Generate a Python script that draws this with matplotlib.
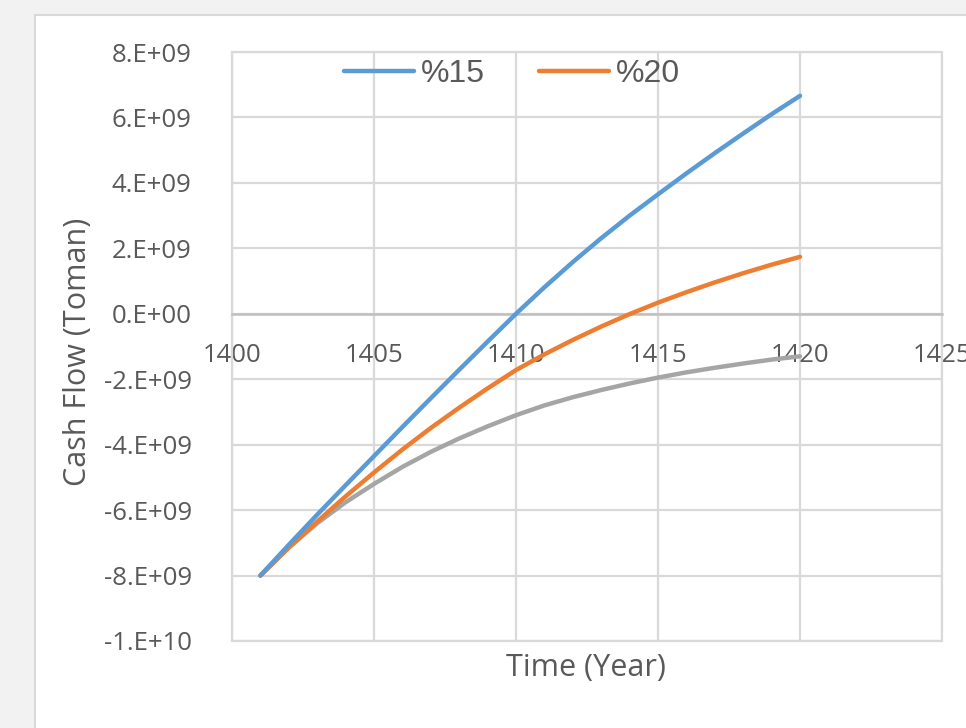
import matplotlib
matplotlib.use("Agg")
import matplotlib.pyplot as plt
from matplotlib.patches import Rectangle

# ====== DATA ======
years = list(range(1401, 1421))
cf_15 = [-8.0, -7.06, -6.14, -5.24, -4.35, -3.46, -2.58, -1.71, -0.85, 0.0,
         0.81, 1.58, 2.31, 3.00, 3.65, 4.29, 4.91, 5.51, 6.10, 6.66]
cf_20 = [-8.0, -7.15, -6.35, -5.58, -4.85, -4.15, -3.49, -2.87, -2.28, -1.72,
         -1.24, -0.80, -0.39, -0.01, 0.34, 0.66, 0.96, 1.24, 1.50, 1.74]
cf_gray = [-8.0, -7.14, -6.40, -5.76, -5.20, -4.68, -4.22, -3.81, -3.44, -3.10,
           -2.80, -2.55, -2.33, -2.13, -1.95, -1.79, -1.65, -1.52, -1.40, -1.30]
x_ticks = [1400, 1405, 1410, 1415, 1420, 1425]
y_ticks = [8e9, 6e9, 4e9, 2e9, 0, -2e9, -4e9, -6e9, -8e9, -1e10]
y_labels = ["8.E+09", "6.E+09", "4.E+09", "2.E+09", "0.E+00",
            "-2.E+09", "-4.E+09", "-6.E+09", "-8.E+09", "-1.E+10"]

GRID = "#d9d9d9"
TXT = "#595959"

fig = plt.figure(figsize=(9.66, 7.28), dpi=100)
fig.patch.set_facecolor("#f2f2f2")
# bila plocha grafu
fig.patches.append(Rectangle((35 / 966, -0.1), 1.0, 1 - 15 / 728 + 0.1,
                             transform=fig.transFigure, facecolor="white",
                             edgecolor=GRID, linewidth=1.5, zorder=-10))

ax = fig.add_axes([232 / 966, 1 - 641 / 728, 710 / 966, 589 / 728])
ax.set_facecolor("white")

scale = 1e9
ax.plot(years, [v * scale for v in cf_gray], color="#a5a5a5", lw=3.2,
        solid_capstyle="round", zorder=3)
ax.plot(years, [v * scale for v in cf_20], color="#ed7d31", lw=3.2,
        solid_capstyle="round", label="%20", zorder=4)
ax.plot(years, [v * scale for v in cf_15], color="#5b9bd5", lw=3.2,
        solid_capstyle="round", label="%15", zorder=5)

ax.set_xlim(1400, 1425)
ax.set_ylim(-1e10, 8e9)
ax.set_xticks(x_ticks)
ax.set_yticks(y_ticks)
ax.set_yticklabels(y_labels)
ax.grid(True, color=GRID, lw=1.6, zorder=0)
ax.set_axisbelow(True)

for s in ["top", "right", "left"]:
    ax.spines[s].set_visible(False)
ax.spines["bottom"].set_position(("data", 0))
ax.spines["bottom"].set_color("#bfbfbf")
ax.spines["bottom"].set_linewidth(1.8)
ax.add_patch(Rectangle((0, 0), 1, 1, transform=ax.transAxes, fill=False,
                       edgecolor=GRID, lw=1.6, clip_on=False, zorder=1))

ax.tick_params(axis="both", length=0, labelcolor=TXT)
ax.tick_params(axis="x", pad=21)
ax.tick_params(axis="y", pad=29)
for lab in ax.get_xticklabels() + ax.get_yticklabels():
    lab.set_fontfamily("Open Sans")
    lab.set_fontsize(18.5)

fig.text(78 / 966, 1 - 352 / 728, "Cash Flow (Toman)", rotation=90,
         ha="center", va="center", fontsize=22, color=TXT, family="Open Sans")
fig.text(586 / 966, 1 - 668 / 728, "Time (Year)", ha="center", va="center",
         fontsize=22, color=TXT, family="Open Sans")

h, l = ax.get_legend_handles_labels()
leg = fig.legend(h[::-1], l[::-1], loc="center", ncol=2,
                 bbox_to_anchor=(512 / 966, 1 - 74 / 728), frameon=False,
                 prop={"family": "Liberation Sans", "size": 23},
                 handlelength=2.2, handletextpad=0.2, columnspacing=1.7,
                 borderpad=0, borderaxespad=0)
for t in leg.get_texts():
    t.set_color(TXT)

fig.savefig("out.png", dpi=100, facecolor=fig.get_facecolor())
